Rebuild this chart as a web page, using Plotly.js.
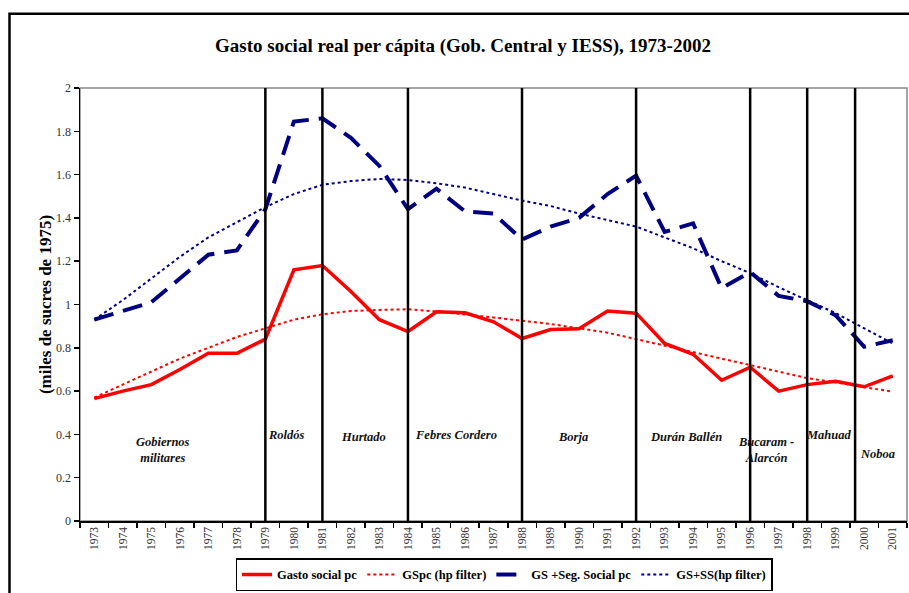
<!DOCTYPE html>
<html>
<head>
<meta charset="utf-8">
<script src="https://cdn.plot.ly/plotly-3.0.1.min.js"></script>
<style>html,body{margin:0;padding:0;background:#fff;}#chart{width:909px;height:593px;}</style>
</head>
<body>
<div id="chart"></div>
<script>
const years = [1973,1974,1975,1976,1977,1978,1979,1980,1981,1982,1983,1984,1985,1986,1987,1988,1989,1990,1991,1992,1993,1994,1995,1996,1997,1998,1999,2000,2001];
const gastoSocial = [0.565,0.60,0.63,0.70,0.775,0.775,0.84,1.16,1.18,1.06,0.93,0.875,0.966,0.962,0.92,0.843,0.884,0.888,0.97,0.96,0.82,0.77,0.65,0.71,0.60,0.63,0.645,0.62,0.67];
const gastoSocialHP = [0.57,0.63,0.69,0.75,0.80,0.85,0.89,0.93,0.955,0.97,0.975,0.978,0.968,0.955,0.94,0.925,0.91,0.89,0.87,0.84,0.81,0.78,0.75,0.72,0.69,0.66,0.64,0.62,0.597];
const gsSegSocial = [0.93,0.97,1.01,1.12,1.23,1.25,1.44,1.845,1.86,1.77,1.64,1.44,1.535,1.43,1.42,1.30,1.36,1.40,1.51,1.595,1.335,1.375,1.075,1.15,1.04,1.015,0.95,0.805,0.835];
const gsSegSocialHP = [0.93,1.02,1.12,1.22,1.31,1.38,1.45,1.51,1.553,1.57,1.58,1.575,1.56,1.54,1.51,1.48,1.455,1.42,1.39,1.36,1.31,1.26,1.20,1.145,1.08,1.02,0.96,0.89,0.82];
const govBoundaries = [1979,1981,1984,1988,1992,1996,1998,1999.68];
const govNames = ["Gobiernos<br>militares","Roldós","Hurtado","Febres Cordero","Borja","Durán Ballén","Bucaram -<br>Alarcón","Mahuad","Noboa"];
const govLabelX = [1975.4,1979.75,1982.45,1985.7,1989.8,1993.75,1996.55,1998.75,2000.45];
const govLabelY = [0.33,0.395,0.386,0.395,0.386,0.39,0.33,0.395,0.31];
const seriesNames = ["Gasto social pc","GSpc (hp filter)","GS +Seg. Social pc","GS+SS(hp filter)"];

const serif = "Liberation Serif, Times New Roman, serif";
const traces = [
  {x: years, y: gastoSocial, name: '<b>' + seriesNames[0] + '</b>', mode: 'lines', line: {color: '#ff0000', width: 3.5}},
  {x: years, y: gastoSocialHP, name: '<b>' + seriesNames[1] + '</b>', mode: 'lines', line: {color: '#ff0000', width: 2, dash: 'dot'}},
  {x: years, y: gsSegSocial, name: '<b>' + seriesNames[2] + '</b>', mode: 'lines', line: {color: '#000080', width: 4, dash: '20px,10px'}},
  {x: years, y: gsSegSocialHP, name: '<b>' + seriesNames[3] + '</b>', mode: 'lines', line: {color: '#000080', width: 2, dash: 'dot'}}
];

const shapes = govBoundaries.map(b => ({
  type: 'line', xref: 'x', yref: 'y', x0: b, x1: b, y0: 0, y1: 2,
  line: {color: '#000', width: 2.5}, layer: 'above'
}));
shapes.push({type: 'rect', xref: 'paper', yref: 'paper', x0: 0, x1: 1, y0: 0, y1: 1,
  line: {color: '#888', width: 1.5}, layer: 'below'});
shapes.push({type: 'rect', xref: 'paper', yref: 'paper',
  x0: (9.5-80)/827, x1: 1.2, y0: -0.3, y1: (528-12.5)/440,
  line: {color: '#000', width: 2.5}, layer: 'below'});

const annotations = govNames.map((t, i) => ({
  x: govLabelX[i], y: govLabelY[i], xref: 'x', yref: 'y',
  text: '<b><i>' + t + '</i></b>', showarrow: false,
  font: {family: serif, size: 12.5, color: '#111'}, align: 'center'
}));

const layout = {
  width: 909, height: 593,
  margin: {l: 80, r: 2, t: 88, b: 65},
  paper_bgcolor: '#fff', plot_bgcolor: '#fff',
  font: {family: serif, color: '#000'},
  title: {text: '<b>Gasto social real per cápita (Gob. Central y IESS), 1973-2002</b>',
    font: {family: serif, size: 19, color: '#000'},
    x: 463/909, xref: 'container', xanchor: 'center', y: 1 - 45/593, yref: 'container', yanchor: 'middle'},
  xaxis: {
    range: [1972.5, 2001.5], tickmode: 'array', tickvals: years, ticktext: years.map(String),
    tickangle: -90, ticks: '', showgrid: false, zeroline: false,
    showline: true, linecolor: '#000', linewidth: 1.5,
    tickfont: {family: serif, size: 11.5, color: '#333'},
    minor: {tick0: 1972.5, dtick: 1, ticks: 'outside', ticklen: 5, tickcolor: '#000', tickwidth: 1.5, showgrid: false}
  },
  yaxis: {
    range: [0, 2], tickmode: 'array', tickvals: [0,0.2,0.4,0.6,0.8,1,1.2,1.4,1.6,1.8,2],
    ticktext: ['0','0.2','0.4','0.6','0.8','1','1.2','1.4','1.6','1.8','2'],
    ticks: 'outside', ticklen: 5, tickcolor: '#000', tickwidth: 1.5,
    showgrid: false, zeroline: false, showline: true, linecolor: '#000', linewidth: 1.5,
    tickfont: {family: serif, size: 12, color: '#333'},
    title: {text: '<b>(miles de sucres de 1975)</b>', font: {family: serif, size: 17, color: '#000'}, standoff: 0}
  },
  legend: {
    orientation: 'h', x: (504-80)/827, xanchor: 'center', y: (528-566)/440, yanchor: 'top',
    bordercolor: '#000', borderwidth: 1.5, bgcolor: '#fff',
    font: {family: serif, size: 12.5, color: '#000'}, itemwidth: 30, tracegroupgap: 0
  },
  showlegend: true,
  shapes: shapes,
  annotations: annotations
};

Plotly.newPlot('chart', traces, layout, {displayModeBar: false, staticPlot: true});
</script>
</body>
</html>
